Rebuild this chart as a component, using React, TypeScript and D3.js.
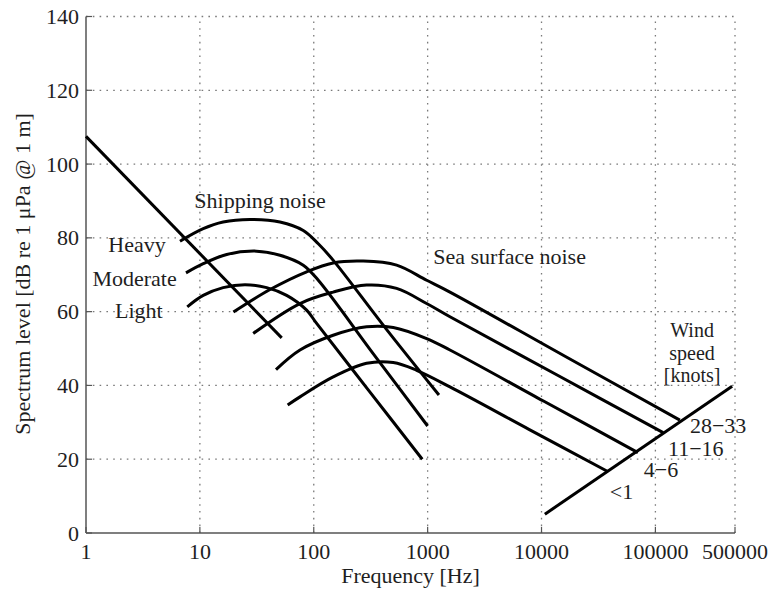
import React from "react";
import * as d3 from "d3";

const freqTicks = [1, 10, 100, 1000, 10000, 100000, 500000];
const levelTicks = [0, 20, 40, 60, 80, 100, 120, 140];

// Turbulence / low-frequency line
const turbFreq = [1, 52.3];
const turbLevel = [107.5, 52.9];

// Shipping noise
const heavyFreq = [6.69, 10.7, 16.0, 27.5, 50.5, 80.9, 109.6, 148.4, 430, 1257];
const heavyLevel = [79.1, 82.5, 84.3, 85.0, 84.3, 82.0, 78.4, 73.9, 55.4, 37.4];
const moderateFreq = [7.55, 10.7, 17.2, 31.5, 50.5, 80.9, 109.6, 331, 1000];
const moderateLevel = [70.5, 73.0, 75.5, 76.4, 75.3, 72.6, 68.5, 48.7, 29.0];
const lightFreq = [7.75, 10.7, 16.0, 24.9, 38.6, 57.8, 86.6, 106, 308, 897];
const lightLevel = [61.3, 64.4, 66.5, 67.3, 66.5, 64.4, 60.4, 56.8, 38.4, 20.0];

// Sea surface noise by wind speed
const sea2833Freq = [19.7, 41.3, 86.6, 148, 272, 534, 980, 1570, 16070, 164000];
const sea2833Level = [59.9, 66.0, 70.8, 73.2, 73.7, 72.6, 68.5, 65.3, 47.9, 30.6];
const sea1116Freq = [29.4, 75.7, 148, 291, 534, 980, 1570, 13580, 117000];
const sea1116Level = [54.1, 62.2, 65.3, 67.2, 66.3, 62.2, 58.6, 42.9, 27.2];
const sea46Freq = [46.6, 75.7, 148, 291, 499, 980, 1570, 10500, 70200];
const sea46Level = [44.3, 49.6, 53.6, 55.9, 55.7, 52.7, 49.6, 35.7, 21.8];
const sea1Freq = [59.0, 75.7, 148, 291, 499, 800, 1570, 7750, 38500];
const sea1Level = [34.7, 36.9, 42.3, 46.0, 46.2, 44.1, 39.6, 28.1, 16.6];

// Wind speed axis line
const windFreq = [10700, 472000];
const windLevel = [5.1, 39.8];

// Annotation texts (anchored in data coordinates)
const labelTexts = ["Shipping noise", "Heavy", "Moderate", "Light", "Sea surface noise", "28\u221233", "11\u221216", "4\u22126", "<1"];
const labelFreqs = [8.93, 5.01, 6.26, 4.71, 1120, 201000, 129000, 79200, 39800];
const labelLevels = [88.0, 76.1, 66.9, 58.2, 73.0, 27.1, 20.9, 15.2, 9.1];
const labelAnchors = ["start", "end", "end", "end", "start", "start", "start", "start", "start"];

const windTitle = ["Wind", "speed", "[knots]"];
const windTitleFreq = 210000;
const windTitleLevels = [53.0, 46.9, 40.8];

const W = 771;
const H = 590;
const FONT = "'Liberation Serif', 'Times New Roman', serif";
const TEXT = "#1e1e1e";

export default function App() {
  const x = d3.scaleLog().domain([1, 500000]).range([86, 735]);
  const y = d3.scaleLinear().domain([0, 140]).range([533, 16.5]);

  const line = d3
    .line<[number, number]>()
    .x((d) => x(d[0]))
    .y((d) => y(d[1]))
    .curve(d3.curveCatmullRom.alpha(0.5));
  const straight = d3
    .line<[number, number]>()
    .x((d) => x(d[0]))
    .y((d) => y(d[1]));

  const zip = (a: number[], b: number[]) => a.map((v, i) => [v, b[i]] as [number, number]);

  const curves = [
    zip(heavyFreq, heavyLevel),
    zip(moderateFreq, moderateLevel),
    zip(lightFreq, lightLevel),
    zip(sea2833Freq, sea2833Level),
    zip(sea1116Freq, sea1116Level),
    zip(sea46Freq, sea46Level),
    zip(sea1Freq, sea1Level),
  ];
  const straights = [zip(turbFreq, turbLevel), zip(windFreq, windLevel)];

  const [x0, x1] = x.range();
  const [y0, y1] = y.range();

  return (
    <svg
      width={W}
      height={H}
      style={{ position: "absolute", left: 0, top: 0, background: "#fff" }}
      fontFamily={FONT}
    >
      {/* grid */}
      <g stroke="#7a7a7a" strokeWidth={1.3} strokeDasharray="1.6,5.2" fill="none">
        {levelTicks
          .filter((t) => t !== 0)
          .map((t) => (
            <line key={"gy" + t} x1={x0} x2={x1} y1={y(t)} y2={y(t)} />
          ))}
        {freqTicks
          .filter((t) => t !== 1)
          .map((t) => (
            <line key={"gx" + t} x1={x(t)} x2={x(t)} y1={y0} y2={y1} />
          ))}
      </g>
      {/* ticks */}
      <g stroke="#555" strokeWidth={1.2}>
        {freqTicks.map((t) => (
          <line key={"tx" + t} x1={x(t)} x2={x(t)} y1={y0} y2={y0 - 6} />
        ))}
        {levelTicks.map((t) => (
          <line key={"ty" + t} x1={x0} x2={x0 + 6} y1={y(t)} y2={y(t)} />
        ))}
      </g>
      {/* axes */}
      <g stroke="#555" strokeWidth={1.5}>
        <line x1={x0} x2={x0} y1={y0} y2={y1} />
        <line x1={x0} x2={x1} y1={y0} y2={y0} />
      </g>
      {/* tick labels */}
      <g fill={TEXT} fontSize={22}>
        {levelTicks.map((t) => (
          <text key={"ly" + t} x={x0 - 7} y={y(t) + 7.5} textAnchor="end">
            {t}
          </text>
        ))}
        {freqTicks.map((t) => (
          <text key={"lx" + t} x={x(t)} y={y0 + 26} textAnchor="middle">
            {t}
          </text>
        ))}
      </g>
      {/* axis titles */}
      <text x={410.5} y={583} textAnchor="middle" fill={TEXT} fontSize={22}>
        Frequency [Hz]
      </text>
      <text
        transform={`translate(30,274) rotate(-90)`}
        textAnchor="middle"
        fill={TEXT}
        fontSize={22}
      >
        Spectrum level [dB re 1 μPa @ 1 m]
      </text>
      {/* curves */}
      <g stroke="#000" strokeWidth={3} fill="none">
        {straights.map((d, i) => (
          <path key={"s" + i} d={straight(d) || ""} />
        ))}
        {curves.map((d, i) => (
          <path key={"c" + i} d={line(d) || ""} />
        ))}
      </g>
      {/* annotations */}
      <g fill={TEXT} fontSize={22}>
        {labelTexts.map((t, i) => (
          <text
            key={"a" + i}
            x={x(labelFreqs[i])}
            y={y(labelLevels[i])}
            textAnchor={labelAnchors[i] as any}
          >
            {t}
          </text>
        ))}
      </g>
      <g fill={TEXT} fontSize={20}>
        {windTitle.map((t, i) => (
          <text key={"w" + i} x={x(windTitleFreq)} y={y(windTitleLevels[i])} textAnchor="middle">
            {t}
          </text>
        ))}
      </g>
    </svg>
  );
}
